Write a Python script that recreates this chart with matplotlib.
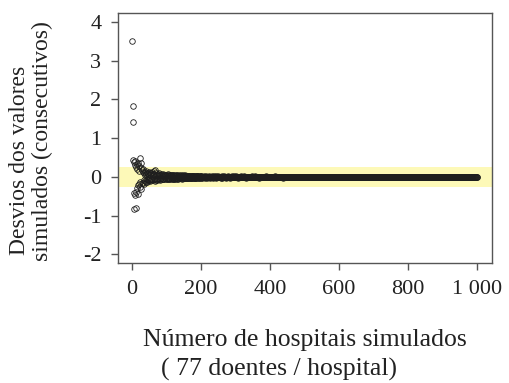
import matplotlib
matplotlib.use("Agg")
import matplotlib.pyplot as plt
import numpy as np

plt.rcParams['font.family'] = ['Liberation Serif', 'DejaVu Serif']
plt.rcParams['axes.unicode_minus'] = False

# Deviations of consecutive simulated values (index = number of simulated hospitals)
early_values = [3.50, 1.83, 1.41, 0.45, -0.42, 0.38, -0.82, 0.30, -0.46, 0.42,
                -0.80, 0.25, -0.38, 0.33, -0.28, 0.20, -0.45, 0.36, -0.22, 0.28,
                -0.18, 0.15, -0.25, 0.48, -0.12, 0.22, -0.30, 0.35, -0.15, 0.18]

# n = 31..200, in hundredths
mid_hundredths = [
    12, -15, 20, -8, 10, -18, 5, 14, -10, 8,
    -12, 16, -6, 9, -14, 11, -5, 7, -9, 13,
    -7, 10, -11, 6, -8, 9, -4, 12, -6, 5,
    -9, 7, 15, -5, 8, -10, 18, -6, 4, -7,
    9, -5, 6, -8, 3, 7, -6, 10, -4, 5,
    -7, 4, -5, 8, -3, 6, -6, 3, -4, 7,
    -5, 3, 6, -4, 5, -3, 4, -6, 2, 5,
    -6, 4, -3, 7, -5, 3, -4, 6, -2, 4,
    -5, 3, -3, 5, -4, 2, 6, -3, 4, -5,
    3, -4, 5, -2, 3, -5, 4, -3, 2, -4,
    5, -3, 2, -4, 3, -2, 4, -3, 3, -2,
    4, -3, 2, -4, 2, -3, 3, -2, 4, -2,
    3, -2, 2, -3, 4, -2, 2, -3, 2, -2,
    3, -2, 3, -2, 2, -3, 2, -2, 3, -2,
    2, -3, 2, -2, 3, -1, 2, -2, 3, -2,
    2, -2, 1, -3, 2, -2, 2, -1, 3, -2,
    2, -1, 2, -2, 1, -2, 2, -1, 2, -2,
]

# n = 201..1000, in hundredths
tail_hundredths = [
    2, -1, 1, -2, 1, 0, -1, 2, -1, 1, -2, 1, -1, 2, 0, -1, 1, -2, 1, -1,
    1, -1, 2, -1, 0, 1, -2, 1, -1, 1, -1, 2, -1, 1, 0, -2, 1, -1, 2, -1,
    -1, 1, -1, 2, -2, 1, 0, -1, 1, -1, 2, -1, 1, -1, 0, 1, -2, 1, -1, 2,
    1, -2, 1, -1, 1, 0, -1, 2, -1, 1, -1, 1, -2, 1, 0, -1, 1, -1, 2, -1,
    0, 1, -1, 1, -2, 1, -1, 0, 2, -1, 1, -1, 1, -1, 2, 0, -1, 1, -1, 1,
    -1, 2, -1, 1, 0, -1, 1, -2, 1, -1, 1, -1, 0, 1, -1, 2, -1, 1, -1, 0,
    1, -1, 1, -1, 2, -1, 0, 1, -1, 1, -2, 1, -1, 1, 0, -1, 1, -1, 1, -1,
    -1, 1, 0, -1, 1, -1, 2, -1, 1, -1, 1, 0, -1, 1, -1, 1, -1, 2, -1, 0,
    1, -1, 1, 0, -1, 1, -1, 1, -2, 1, -1, 0, 1, -1, 1, -1, 1, 0, -1, 1,
    0, -1, 1, -1, 1, -1, 0, 2, -1, 1, -1, 0, 1, -1, 1, -1, 1, -1, 0, 1,
    -1, 1, -1, 0, 1, -1, 1, -1, 1, 0, -1, 1, -1, 2, -1, 0, 1, -1, 1, -1,
    1, 0, -1, 1, -1, 1, -1, 0, 1, -1, 1, -1, 0, 1, -1, 1, -2, 1, 0, -1,
    0, 1, -1, 1, 0, -1, 1, -1, 1, -1, 0, 1, -1, 1, -1, 0, 1, -1, 1, 0,
    -1, 1, 0, -1, 1, -1, 1, 0, -1, 1, -1, 0, 1, -1, 1, -1, 0, 1, -1, 1,
    1, -1, 0, 1, -1, 1, -1, 0, 1, -1, 0, 1, -1, 1, 0, -1, 1, -1, 0, 1,
    -1, 0, 1, -1, 1, 0, -1, 1, -1, 0, 1, -1, 1, 0, -1, 1, 0, -1, 1, -1,
    0, 1, -1, 0, 1, -1, 1, 0, -1, 1, 0, -1, 1, -1, 0, 1, -1, 0, 1, -1,
    1, 0, -1, 1, 0, -1, 1, -1, 0, 1, -1, 0, 1, -1, 1, 0, -1, 0, 1, -1,
    -1, 1, 0, -1, 1, 0, -1, 1, -1, 0, 1, 0, -1, 1, -1, 0, 1, -1, 0, 1,
    0, -1, 1, 0, -1, 1, -1, 0, 1, 0, -1, 1, 0, -1, 1, -1, 0, 1, 0, -1,
    1, 0, -1, 0, 1, -1, 0, 1, -1, 0, 1, 0, -1, 1, 0, -1, 0, 1, -1, 0,
    -1, 0, 1, -1, 0, 1, 0, -1, 1, 0, -1, 0, 1, -1, 0, 1, 0, -1, 1, 0,
    0, 1, -1, 0, 1, 0, -1, 0, 1, -1, 0, 1, 0, -1, 0, 1, -1, 0, 1, 0,
    1, -1, 0, 0, 1, -1, 0, 1, 0, -1, 0, 1, -1, 0, 0, 1, -1, 0, 1, 0,
    -1, 0, 1, 0, -1, 0, 1, -1, 0, 1, 0, -1, 0, 0, 1, -1, 0, 1, 0, -1,
    0, 1, 0, -1, 0, 1, -1, 0, 0, 1, 0, -1, 0, 1, -1, 0, 1, 0, 0, -1,
    1, 0, -1, 0, 1, 0, -1, 0, 0, 1, -1, 0, 1, 0, -1, 0, 0, 1, 0, -1,
    -1, 0, 0, 1, 0, -1, 0, 1, 0, -1, 0, 0, 1, -1, 0, 1, 0, -1, 0, 0,
    0, 1, 0, -1, 0, 0, 1, 0, -1, 0, 1, 0, -1, 0, 0, 1, 0, -1, 0, 1,
    1, 0, -1, 0, 0, 1, 0, -1, 0, 0, 1, -1, 0, 0, 1, 0, -1, 0, 1, 0,
    -1, 0, 1, 0, 0, -1, 0, 1, 0, -1, 0, 0, 1, 0, -1, 0, 1, 0, 0, -1,
    0, 0, 1, 0, -1, 0, 1, 0, 0, -1, 0, 1, 0, 0, -1, 0, 1, 0, -1, 0,
    1, 0, 0, -1, 0, 1, 0, 0, -1, 0, 0, 1, 0, -1, 0, 0, 1, 0, 0, -1,
    0, 1, 0, 0, -1, 0, 0, 1, 0, -1, 0, 0, 1, 0, 0, -1, 0, 1, 0, 0,
    -1, 0, 0, 1, 0, 0, -1, 0, 1, 0, 0, -1, 0, 0, 1, 0, -1, 0, 0, 1,
    0, 0, -1, 0, 1, 0, 0, -1, 0, 0, 1, 0, 0, -1, 0, 1, 0, 0, -1, 0,
    1, 0, 0, -1, 0, 0, 1, 0, 0, -1, 0, 0, 1, 0, -1, 0, 0, 1, 0, 0,
    0, -1, 0, 0, 1, 0, 0, -1, 0, 0, 1, 0, 0, -1, 0, 0, 1, 0, 0, -1,
    0, 1, 0, 0, -1, 0, 0, 1, 0, 0, -1, 0, 0, 1, 0, 0, -1, 0, 0, 1,
    -1, 0, 0, 1, 0, 0, -1, 0, 0, 1, 0, 0, -1, 0, 0, 1, 0, 0, -1, 0,
]

x_ticks = [0, 200, 400, 600, 800, 1000]
x_tick_labels = ['0', '200', '400', '600', '800', '1 000']
y_ticks = [-2, -1, 0, 1, 2, 3, 4]
y_tick_labels = ['-2', '-1', '0', '1', '2', '3', '4']
band_limits = [-0.25, 0.25]

values = np.concatenate([np.array(early_values),
                         np.array(mid_hundredths) / 100.0,
                         np.array(tail_hundredths) / 100.0])
n = np.arange(1, len(values) + 1)

fig = plt.figure(figsize=(5.09, 3.83), dpi=100)
ax = fig.add_axes([118/509, 1 - 263/383, (492-118)/509, (263-13)/383])

ax.axhspan(band_limits[0], band_limits[1], color='#fdf9b8', zorder=0, lw=0)
ax.plot(n, values, 'o', mfc='none', mec='#1e1e1e', ms=4, mew=0.6, zorder=2)

ax.set_xlim(-40, 1043)
ax.set_ylim(-2.22, 4.23)
ax.set_xticks(x_ticks)
ax.set_xticklabels(x_tick_labels)
ax.set_yticks(y_ticks)
ax.set_yticklabels(y_tick_labels)

for s in ax.spines.values():
    s.set_color('#555555')
    s.set_linewidth(1.0)
ax.tick_params(axis='both', direction='out', length=5, width=1.0,
               color='#555555', labelsize=16, labelcolor='#222222', pad=7)

fs_y = 17
fs_x = 18.5
fig.text(20/509, 1 - 160/383, 'Desvios dos valores', rotation=90,
         ha='center', va='center', fontsize=fs_y, color='#222222')
fig.text(42/509, 1 - 141/383, 'simulados (consecutivos)', rotation=90,
         ha='center', va='center', fontsize=fs_y, color='#222222')
fig.text(305/509, 1 - 340/383, 'Número de hospitais simulados',
         ha='center', va='center', fontsize=fs_x, color='#222222')
fig.text(279/509, 1 - 369/383, '( 77 doentes / hospital)',
         ha='center', va='center', fontsize=fs_x, color='#222222')

fig.savefig('out.png', dpi=100)
